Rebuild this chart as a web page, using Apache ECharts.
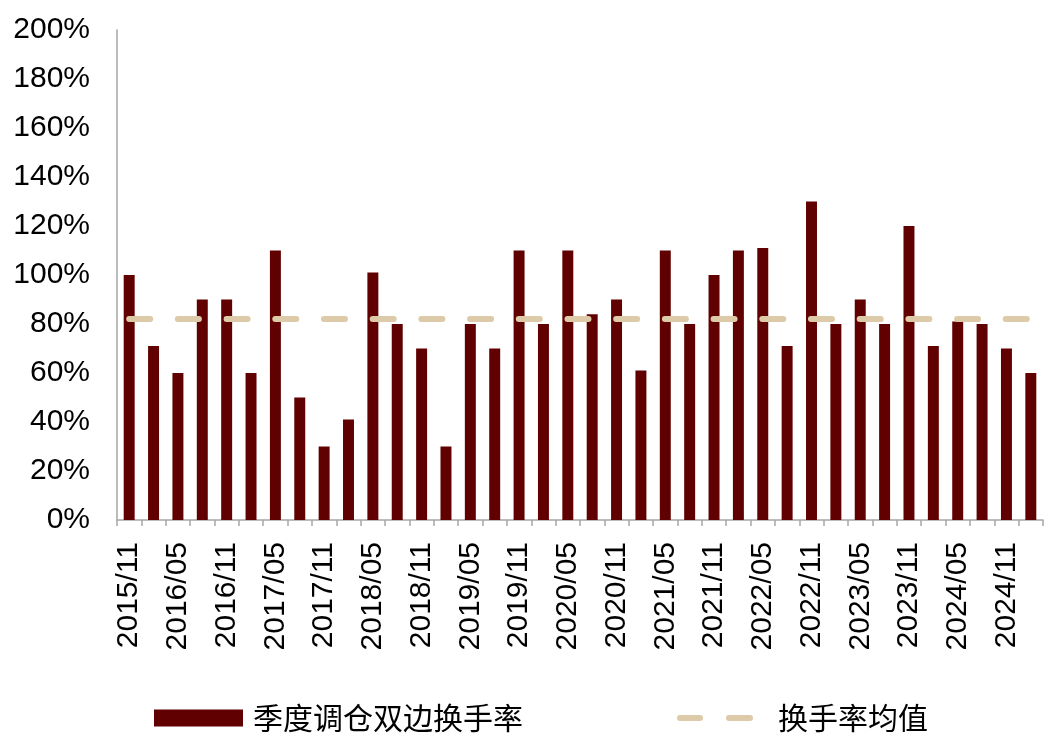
<!DOCTYPE html>
<html>
<head>
<meta charset="utf-8">
<script src="https://cdn.jsdelivr.net/npm/echarts@6/dist/echarts.min.js"></script>
<style>
html,body{margin:0;padding:0;background:#fff;}
#chart{width:1050px;height:744px;}
</style>
</head>
<body>
<div id="chart"></div>
<script>
const categories = ['2015/11','2016/02','2016/05','2016/08','2016/11','2017/02','2017/05','2017/08','2017/11','2018/02',
  '2018/05','2018/08','2018/11','2019/02','2019/05','2019/08','2019/11','2020/02','2020/05','2020/08',
  '2020/11','2021/02','2021/05','2021/08','2021/11','2022/02','2022/05','2022/08','2022/11','2023/02',
  '2023/05','2023/08','2023/11','2024/02','2024/05','2024/08','2024/11','2025/02'];
const turnover = [100,71,60,90,90,60,110,50,30,41,
  101,80,70,30,80,70,110,80,110,84,
  90,61,110,80,100,110,111,71,130,80,
  90,80,120,71,81,80,70,60];
const avgTurnover = 82;
const avgLine = categories.map(() => avgTurnover);
const yTicks = [0,20,40,60,80,100,120,140,160,180,200];
const seriesNames = ['季度调仓双边换手率','换手率均值'];

const latin = "'Liberation Sans', Arial, sans-serif";
const cjk = "'Noto Sans CJK SC', sans-serif";
const chart = echarts.init(document.getElementById('chart'));
chart.setOption({
  animation: false,
  backgroundColor: '#fff',
  grid: { left: 117, right: 7, top: 30, bottom: 224, containLabel: false },
  legend: [
    {
      left: 154, top: 703, padding: 0, itemWidth: 89, itemHeight: 17, itemGap: 0,
      data: [{ name: seriesNames[0], icon: 'rect' }],
      textStyle: { fontFamily: cjk, fontSize: 30, color: '#000', padding: [0,0,0,5] }
    },
    {
      left: 677, top: 703, padding: 0, itemWidth: 76, itemHeight: 7, itemGap: 0,
      data: [{ name: seriesNames[1], icon: 'path://M3,0 L23,0 A3,3 0 0 1 23,6 L3,6 A3,3 0 0 1 3,0 Z M52,0 L73,0 A3,3 0 0 1 73,6 L52,6 A3,3 0 0 1 52,0 Z' }],
      textStyle: { fontFamily: cjk, fontSize: 30, color: '#000', padding: [0,0,0,20] }
    }
  ],
  xAxis: {
    type: 'category',
    data: categories,
    boundaryGap: true,
    axisLine: { lineStyle: { color: '#a6a6a6', width: 1.5 } },
    axisTick: { show: true, interval: 0, length: 6, lineStyle: { color: '#a6a6a6', width: 1.5 } },
    axisLabel: { interval: 1, rotate: 90, margin: 22, fontFamily: latin, fontSize: 30, color: '#000' },
    splitLine: { show: false }
  },
  yAxis: {
    type: 'value',
    min: yTicks[0], max: yTicks[yTicks.length-1], interval: 20,
    axisLine: { show: true, lineStyle: { color: '#a6a6a6', width: 1.5 } },
    axisTick: { show: false },
    splitLine: { show: false },
    axisLabel: { formatter: '{value}%', margin: 27, fontFamily: latin, fontSize: 30, color: '#000' }
  },
  series: [
    {
      name: seriesNames[0],
      type: 'bar',
      data: turnover,
      barWidth: '45%',
      itemStyle: { color: '#600000' }
    },
    {
      name: seriesNames[1],
      type: 'line',
      data: avgLine,
      symbol: 'none',
      itemStyle: { color: '#dccaa9' },
      lineStyle: { color: '#dccaa9', width: 6, type: [21, 27.7], cap: 'round' }
    }
  ]
});
</script>
</body>
</html>
